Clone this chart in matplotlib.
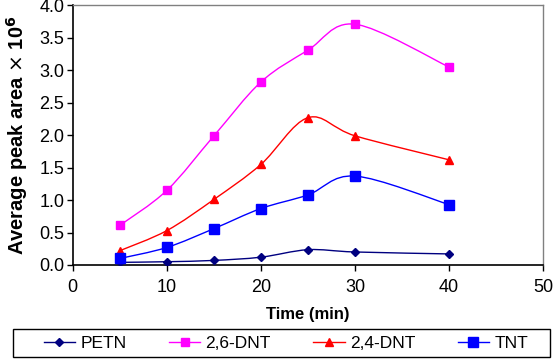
import numpy as np
import matplotlib.pyplot as plt
from matplotlib.path import Path
from matplotlib.patches import PathPatch, Rectangle
from matplotlib.lines import Line2D

plt.rcParams['font.family'] = ['Liberation Sans', 'DejaVu Sans']

time = [5, 10, 15, 20, 25, 30, 40]
petn = [0.04, 0.05, 0.07, 0.12, 0.235, 0.20, 0.17]
dnt26 = [0.61, 1.15, 1.99, 2.82, 3.31, 3.71, 3.05]
dnt24 = [0.22, 0.53, 1.01, 1.55, 2.27, 1.99, 1.62]
tnt = [0.10, 0.27, 0.56, 0.87, 1.08, 1.37, 0.93]

series = [
    ('PETN', petn, '#000080', 'D', 4.5),
    ('2,6-DNT', dnt26, '#FF00FF', 's', 5.5),
    ('2,4-DNT', dnt24, '#FF0000', '^', 6),
    ('TNT', tnt, '#0000FF', 's', 7),
]


def smooth_path(x, y):
    # Excel-style smoothed line: cubic Bezier through the points
    pts = np.column_stack([x, y]).astype(float)
    n = len(pts)
    verts = [pts[0]]
    codes = [Path.MOVETO]
    for i in range(n - 1):
        p0 = pts[i - 1] if i > 0 else pts[i]
        p1, p2 = pts[i], pts[i + 1]
        p3 = pts[i + 2] if i + 2 < n else pts[i + 1]
        verts += [p1 + (p2 - p0) / 6, p2 - (p3 - p1) / 6, p2]
        codes += [Path.CURVE4] * 3
    return Path(verts, codes)


fig = plt.figure(figsize=(5.6, 3.6), dpi=100)
ax = fig.add_axes([0.130, 0.264, 0.840, 0.721])

handles = []
for name, vals, col, mk, ms in series:
    ax.add_patch(PathPatch(smooth_path(time, vals), facecolor='none',
                           edgecolor=col, lw=1.0, zorder=2))
    ax.plot(time, vals, ls='none', marker=mk, color=col, ms=ms, zorder=3)
    handles.append(Line2D([], [], color=col, lw=1.0, marker=mk, ms=ms))

ax.set_xlim(0, 50)
ax.set_ylim(0, 4.0)
ax.set_xticks(range(0, 51, 10))
ax.set_yticks(np.arange(0, 4.01, 0.5))
ax.set_yticklabels([f'{v:.1f}' for v in np.arange(0, 4.01, 0.5)])
ax.tick_params(labelsize=13, direction='out', length=4, width=1, pad=2)
ax.tick_params(axis='x', pad=6)
for s in ['left', 'bottom']:
    ax.spines[s].set_color('black')
    ax.spines[s].set_linewidth(1.2)
for s in ['top', 'right']:
    ax.spines[s].set_color('#808080')
    ax.spines[s].set_linewidth(1.0)

ax.set_xlabel('Time (min)', fontsize=12, fontweight='bold', labelpad=8)
ax.set_ylabel(r'Average peak area $\times$ 10$^{\mathbf{6}}$', fontsize=14.5,
              fontweight='bold', labelpad=7)

# legend box drawn separately, entries inset like the original
fig.patches.append(Rectangle((0.0232, 0.0083), 0.959, 0.0778,
                             transform=fig.transFigure, facecolor='white',
                             edgecolor='black', lw=1.0, zorder=0))
leg = fig.legend(handles, [s[0] for s in series], ncol=4, loc='center left',
                 bbox_to_anchor=(0.078, 0.017, 0.865, 0.06), mode='expand',
                 fontsize=12.5, frameon=False, handlelength=1.8,
                 borderaxespad=0, borderpad=0, handletextpad=0.3)

fig.savefig('out.png', dpi=100)
